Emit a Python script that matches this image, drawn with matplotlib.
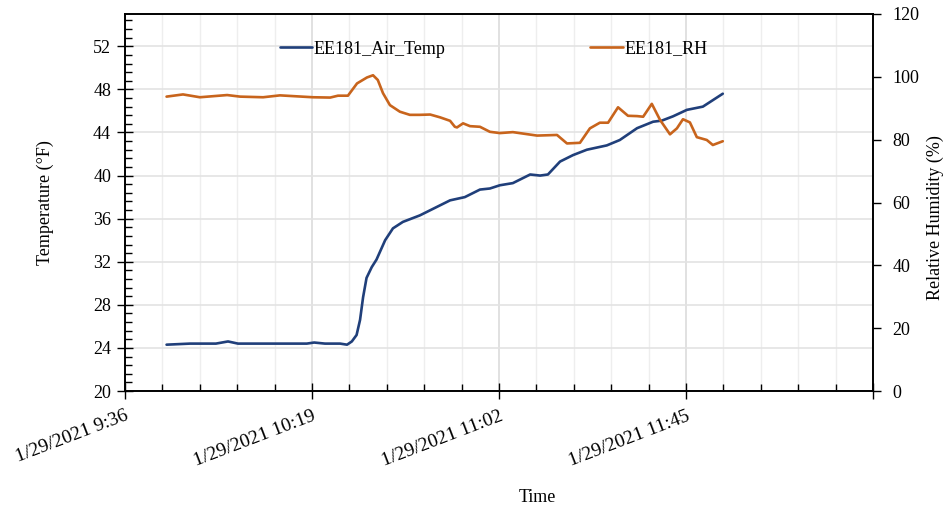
import matplotlib
matplotlib.use("Agg")
import matplotlib.pyplot as plt
from matplotlib.ticker import MultipleLocator, FixedLocator, FixedFormatter

# --- dados (minutos depois de 1/29/2021 9:36) ---
temp_min = [9.6, 15.0, 21.0, 23.8, 26.1, 33.5, 42.0, 43.7, 46.2, 49.7, 51.3, 52.4,
            53.5, 54.3, 55.0, 55.8, 57.0, 58.1, 60.1, 61.9, 64.2, 68.1, 71.6, 75.1,
            78.5, 82.0, 84.3, 86.6, 89.6, 93.6, 95.9, 97.7, 100.5, 103.5, 106.7,
            111.3, 114.3, 118.3, 122.0, 124.0, 126.6, 129.8, 133.5, 135.8, 138.1]
temp_val = [24.3, 24.4, 24.4, 24.6, 24.4, 24.4, 24.4, 24.5, 24.4, 24.4, 24.3, 24.6,
            25.2, 26.6, 28.7, 30.5, 31.5, 32.2, 34.0, 35.1, 35.7, 36.3, 37.0, 37.7,
            38.0, 38.7, 38.8, 39.1, 39.3, 40.1, 40.0, 40.1, 41.3, 41.9, 42.4,
            42.8, 43.3, 44.4, 45.0, 45.1, 45.5, 46.1, 46.4, 47.0, 47.6]

rh_min = [9.6, 13.4, 17.3, 23.6, 26.6, 31.9, 35.8, 43.4, 47.4, 49.2, 51.5, 53.6,
          55.9, 57.3, 58.4, 59.6, 61.2, 63.5, 65.8, 68.1, 70.5, 72.8, 75.1, 76.2,
          76.7, 78.1, 79.7, 82.0, 84.3, 86.6, 89.6, 95.2, 99.8, 102.1, 105.1,
          107.4, 109.7, 111.6, 113.9, 116.2, 118.3, 119.7, 121.7, 123.6, 125.9,
          127.5, 128.9, 130.5, 132.1, 134.4, 135.8, 138.1]
rh_val = [93.7, 94.4, 93.5, 94.2, 93.7, 93.5, 94.1, 93.5, 93.4, 94.0, 94.0, 97.9,
          99.8, 100.5, 99.0, 94.8, 91.0, 88.9, 87.9, 87.9, 88.0, 87.1, 86.0, 84.1,
          83.9, 85.2, 84.3, 84.1, 82.5, 82.1, 82.4, 81.3, 81.5, 78.8, 79.0,
          83.6, 85.4, 85.4, 90.3, 87.6, 87.5, 87.3, 91.4, 86.3, 81.7,
          83.6, 86.5, 85.5, 80.8, 79.9, 78.3, 79.5]

tick_labels = ["1/29/2021 9:36", "1/29/2021 10:19", "1/29/2021 11:02", "1/29/2021 11:45", ""]

azul = "#203f7a"
laranja = "#c8641c"
cinza = "#e3e3e3"

plt.rcParams["font.family"] = ["Liberation Serif", "DejaVu Serif"]
plt.rcParams["font.size"] = 13

fig = plt.figure(figsize=(9.51, 5.12), dpi=100)
ax = fig.add_axes([125 / 951, 1 - 391 / 512, 748 / 951, 377 / 512])
ax2 = ax.twinx()

l1, = ax.plot(temp_min, temp_val, color=azul, lw=1.9, label="EE181_Air_Temp", solid_capstyle="round")
l2, = ax2.plot(rh_min, rh_val, color=laranja, lw=1.9, label="EE181_RH", solid_capstyle="round")

# eixo x
ax.set_xlim(0, 172.8)
ax.xaxis.set_major_locator(FixedLocator([0, 43.2, 86.4, 129.6, 172.8]))
ax.xaxis.set_major_formatter(FixedFormatter(tick_labels))
ax.xaxis.set_minor_locator(MultipleLocator(8.64))
plt.setp(ax.get_xticklabels(), rotation=21, ha="right", va="top", rotation_mode="anchor", fontsize=14)
ax.tick_params(axis="x", which="major", direction="inout", length=12, width=1, pad=6)
ax.tick_params(axis="x", which="minor", direction="in", length=5, width=1)

# eixo y esquerdo
ax.set_ylim(20, 55)
ax.yaxis.set_major_locator(MultipleLocator(4))
ax.yaxis.set_minor_locator(MultipleLocator(0.8))
ax.tick_params(axis="y", which="major", direction="inout", length=12, width=1, pad=4)
ax.tick_params(axis="y", which="minor", direction="in", length=5, width=1)

# eixo y direito
ax2.set_ylim(0, 120)
ax2.yaxis.set_major_locator(MultipleLocator(20))
ax2.tick_params(axis="y", which="major", direction="out", length=6, width=1, pad=8)

# grade
ax.grid(True, which="major", axis="y", color=cinza, lw=1.2)
ax.grid(True, which="minor", axis="x", color="#eeeeee", lw=1.0)
ax.grid(True, which="major", axis="x", color="#dcdcdc", lw=1.2)
ax.set_axisbelow(True)

for s in ["left", "right", "top", "bottom"]:
    ax.spines[s].set_linewidth(1.2)
    ax2.spines[s].set_linewidth(1.2)
ax2.set_zorder(ax.get_zorder() + 1)
ax2.patch.set_visible(False)

fig.text(45 / 951, 1 - 203 / 512, "Temperature (°F)", rotation=90, ha="center", va="center")
fig.text(935 / 951, 1 - 218 / 512, "Relative Humidity (%)", rotation=90, ha="center", va="center")
fig.text(537 / 951, 1 - 497 / 512, "Time", ha="center", va="center")

leg = ax2.legend(handles=[l1, l2], loc="center", bbox_to_anchor=(0.4927, 0.907), ncol=2,
                 frameon=False, handlelength=1.8, handletextpad=0.1, columnspacing=8.0,
                 fontsize=13)

fig.savefig("out.png", dpi=100)
